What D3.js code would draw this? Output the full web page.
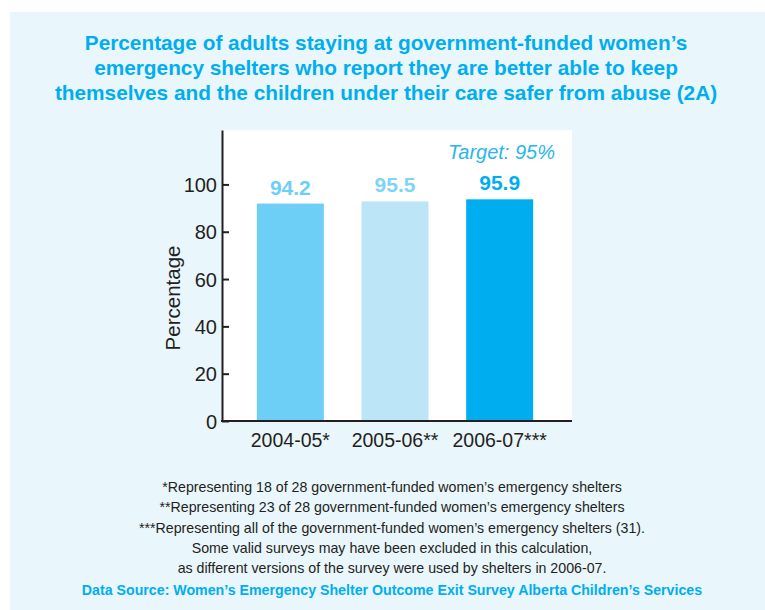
<!DOCTYPE html>
<html lang="en">
<head>
<meta charset="UTF-8">
<title>Women's emergency shelters (2A)</title>
<script src="https://cdn.jsdelivr.net/npm/d3@7"></script>
<style>
  body { margin: 0; background: #fff; }
  svg text { font-family: "Liberation Sans", Arial, sans-serif; }
  .axis text { fill: #231f20; font-size: 20px; }
  .axis line, .axis path { stroke: #231f20; stroke-width: 2px; }
  .note { fill: #231f20; font-family: "Liberation Sans", Arial, sans-serif; font-size: 14.2px; }
</style>
</head>
<body>
<div class="app"></div>
<script>
  // data
  var years = ['2004-05*', '2005-06**', '2006-07***'];
  var valueLabels = ['94.2', '95.5', '95.9'];
  var barHeights = [91.9, 92.8, 93.7];   // bar tops as drawn in the source
  var barColors = ['#6dcff6', '#bce5f8', '#00aeef'];
  var labelColors = ['#6dcff6', '#7fd4f6', '#00aeef'];
  var yTicks = [0, 20, 40, 60, 80, 100];
  var titleLines = [
    'Percentage of adults staying at government-funded women\u2019s',
    'emergency shelters who report they are better able to keep',
    'themselves and the children under their care safer from abuse (2A)'
  ];
  var notes = [
    '*Representing 18 of 28 government-funded women\u2019s emergency shelters',
    '**Representing 23 of 28 government-funded women\u2019s emergency shelters',
    '***Representing all of the government-funded women\u2019s emergency shelters (31).',
    'Some valid surveys may have been excluded in this calculation,',
    'as different versions of the survey were used by shelters in 2006-07.'
  ];
  var source = 'Data Source: Women\u2019s Emergency Shelter Outcome Exit Survey Alberta Children\u2019s Services';
  var target = 'Target: 95%';

  var width = 765, height = 610;
  var svg = d3.select('.app').append('svg')
      .attr('width', width)
      .attr('height', height);

  // light blue panel
  svg.append('rect')
      .attr('x', 10).attr('y', 12)
      .attr('width', width - 10).attr('height', height - 12)
      .attr('fill', '#e9f6fc');

  // title
  svg.append('g').selectAll('text')
      .data(titleLines)
      .enter().append('text')
      .attr('x', 386)
      .attr('y', function(d, i) { return 50 + i * 25; })
      .attr('text-anchor', 'middle')
      .attr('fill', '#00aeef')
      .style('font-size', '20.8px')
      .style('font-weight', 'bold')
      .text(function(d) { return d; });

  // plot area
  var plot = {left: 222, right: 572, top: 130, bottom: 421};

  var x = d3.scaleBand()
      .domain(years)
      .range([238, 552])
      .paddingInner(0.36)
      .paddingOuter(0.18);

  var y = d3.scaleLinear()
      .domain([0, 123])
      .range([plot.bottom, plot.top]);

  svg.append('rect')
      .attr('x', plot.left).attr('y', plot.top)
      .attr('width', plot.right - plot.left)
      .attr('height', plot.bottom - plot.top)
      .attr('fill', '#fff');

  // bars
  var bar = svg.append('g').selectAll('.bar')
      .data(years)
      .enter().append('g')
      .attr('class', 'bar');

  bar.append('rect')
      .attr('x', function(d) { return x(d); })
      .attr('y', function(d, i) { return y(barHeights[i]); })
      .attr('width', x.bandwidth())
      .attr('height', function(d, i) { return y(0) - y(barHeights[i]); })
      .attr('fill', function(d, i) { return barColors[i]; });

  bar.append('text')
      .attr('x', function(d) { return x(d) + x.bandwidth() / 2; })
      .attr('y', function(d, i) { return y(barHeights[i]) - 9; })
      .attr('text-anchor', 'middle')
      .attr('fill', function(d, i) { return labelColors[i]; })
      .style('font-size', '21px')
      .style('font-weight', 'bold')
      .text(function(d, i) { return valueLabels[i]; });

  // target
  svg.append('text')
      .attr('x', 555).attr('y', 159)
      .attr('text-anchor', 'end')
      .attr('fill', '#29b6ee')
      .style('font-size', '20px')
      .style('font-style', 'italic')
      .text(target);

  // y axis
  svg.append('g')
      .attr('class', 'axis axis-y')
      .attr('transform', 'translate(' + plot.left + ',0)')
      .call(d3.axisLeft(y).tickValues(yTicks).tickSizeInner(-7).tickSizeOuter(0).tickPadding(5))
      .call(function(g) { g.selectAll('.tick text').attr('dy', '0.36em'); });

  // x axis
  var xAxis = svg.append('g')
      .attr('class', 'axis axis-x')
      .attr('transform', 'translate(0,' + plot.bottom + ')')
      .call(d3.axisBottom(x).tickSize(0).tickPadding(12));
  xAxis.select('.domain').remove();
  xAxis.selectAll('.tick text').style('font-size', '19.5px');
  xAxis.append('line')
      .attr('x1', plot.left - 1).attr('x2', plot.right)
      .attr('stroke', '#231f20').attr('stroke-width', 2);

  // y label
  svg.append('text')
      .attr('transform', 'translate(180,298) rotate(-90)')
      .attr('text-anchor', 'middle')
      .attr('fill', '#231f20')
      .style('font-size', '20.5px')
      .text('Percentage');

  // notes
  svg.append('g').selectAll('text')
      .data(notes)
      .enter().append('text')
      .attr('class', 'note')
      .attr('x', 392)
      .attr('y', function(d, i) { return 492 + i * 20.3; })
      .attr('text-anchor', 'middle')
      .text(function(d) { return d; });

  svg.append('text')
      .attr('class', 'note')
      .attr('x', 392).attr('y', 595)
      .attr('text-anchor', 'middle')
      .style('fill', '#00aeef')
      .style('font-size', '14.2px')
      .style('font-weight', 'bold')
      .text(source);
</script>
</body>
</html>
